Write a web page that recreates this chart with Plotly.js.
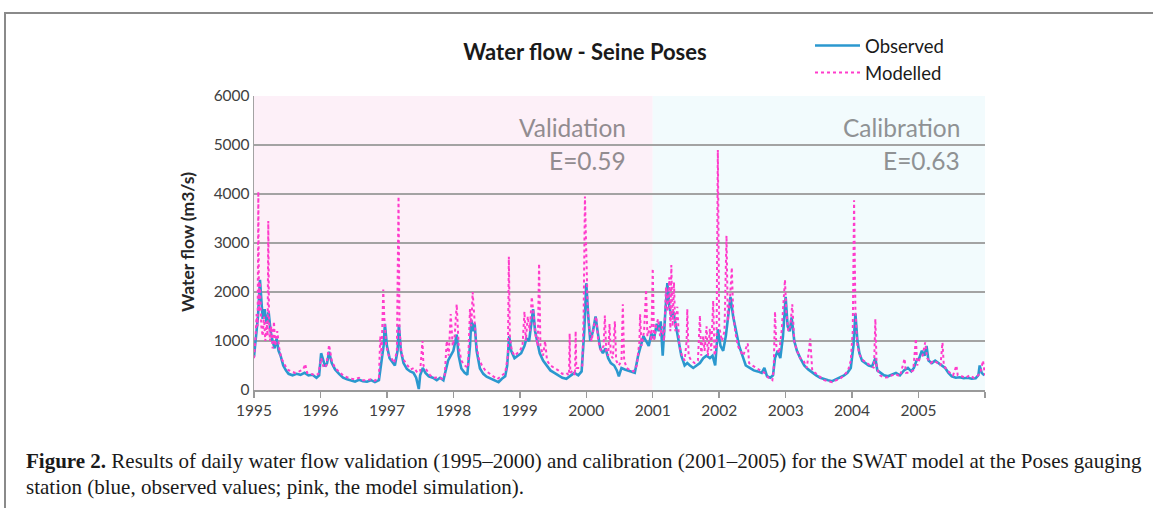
<!DOCTYPE html>
<html>
<head>
<meta charset="utf-8">
<script src="https://cdn.plot.ly/plotly-3.0.1.min.js"></script>
<style>
  html, body { margin: 0; padding: 0; background: #ffffff; }
  #wrap { position: relative; width: 1153px; height: 508px; overflow: hidden; }
  #chart { position: absolute; left: 0; top: 0; width: 1153px; height: 508px; }
  #frame { position: absolute; left: 4px; top: 12px; width: 1200px; height: 600px;
           border-top: 2px solid #8a8a8a; border-left: 2px solid #8a8a8a; pointer-events: none; }
</style>
</head>
<body>
<div id="wrap">
  <div id="chart"></div>
  <div id="frame"></div>
</div>
<script>
// ---------- data ----------
const yearTicks = [1995, 1996, 1997, 1998, 1999, 2000, 2001, 2002, 2003, 2004, 2005, 2006];
const yearTickLabels = ['1995','1996','1997','1998','1999','2000','2001','2002','2003','2004','2005',''];

const observedYear = [
 1995.00,1995.03,1995.06,1995.09,1995.11,1995.13,1995.16,1995.19,1995.22,1995.25,1995.28,1995.31,1995.34,1995.37,1995.40,1995.44,1995.48,1995.52,1995.58,1995.64,1995.70,1995.76,1995.82,1995.88,1995.94,1995.98,
 1996.01,1996.04,1996.07,1996.10,1996.13,1996.17,1996.22,1996.28,1996.34,1996.40,1996.46,1996.52,1996.58,1996.64,1996.70,1996.76,1996.82,1996.88,1996.92,1996.95,1996.97,
 1997.00,1997.04,1997.08,1997.12,1997.16,1997.18,1997.21,1997.25,1997.30,1997.35,1997.40,1997.44,1997.48,1997.50,1997.54,1997.58,1997.63,1997.69,1997.75,1997.80,1997.85,1997.88,1997.92,1997.96,
 1998.00,1998.05,1998.08,1998.12,1998.17,1998.21,1998.25,1998.27,1998.30,1998.32,1998.35,1998.40,1998.45,1998.50,1998.56,1998.62,1998.68,1998.73,1998.78,1998.81,1998.84,1998.87,1998.92,1998.97,
 1999.02,1999.07,1999.10,1999.14,1999.18,1999.20,1999.23,1999.26,1999.30,1999.35,1999.40,1999.46,1999.52,1999.58,1999.64,1999.70,1999.76,1999.82,1999.88,1999.93,1999.97,
 2000.00,2000.03,2000.06,2000.10,2000.14,2000.17,2000.21,2000.25,2000.29,2000.33,2000.37,2000.42,2000.46,2000.49,2000.53,2000.58,2000.63,2000.68,2000.73,2000.78,2000.82,2000.86,2000.90,2000.94,2000.98,
 2001.02,2001.06,2001.09,2001.12,2001.15,2001.19,2001.22,2001.25,2001.28,2001.31,2001.35,2001.39,2001.43,2001.48,2001.52,2001.56,2001.61,2001.66,2001.71,2001.76,2001.81,2001.86,2001.90,2001.94,2001.98,
 2002.02,2002.06,2002.10,2002.14,2002.17,2002.21,2002.25,2002.30,2002.35,2002.40,2002.46,2002.52,2002.58,2002.64,2002.68,2002.72,2002.77,2002.81,2002.84,2002.88,2002.92,2002.96,
 2003.00,2003.03,2003.06,2003.09,2003.13,2003.17,2003.22,2003.28,2003.34,2003.40,2003.46,2003.52,2003.58,2003.64,2003.70,2003.76,2003.82,2003.88,2003.93,2003.98,
 2004.02,2004.05,2004.08,2004.11,2004.15,2004.20,2004.25,2004.30,2004.35,2004.38,2004.43,2004.48,2004.54,2004.60,2004.66,2004.72,2004.78,2004.84,2004.89,2004.93,2004.97,
 2005.01,2005.05,2005.09,2005.12,2005.15,2005.20,2005.25,2005.30,2005.35,2005.40,2005.45,2005.50,2005.56,2005.62,2005.68,2005.74,2005.80,2005.86,2005.90,2005.92,2005.95,2005.99
];
const observedFlow = [
 680,1100,1500,2250,1800,1450,1650,1350,1600,1200,1000,850,1050,800,700,500,400,330,300,330,310,350,300,310,250,300,
 750,600,480,550,780,550,420,330,250,220,200,170,210,180,170,200,160,200,600,900,1350,
 900,650,570,500,800,1330,800,550,430,380,350,250,20,300,450,350,280,250,200,250,200,350,600,700,
 800,1130,700,440,350,310,900,1430,1200,1360,800,440,330,270,230,200,160,230,280,500,1100,800,650,700,
 750,900,1050,1000,1400,1650,1200,1000,750,600,500,400,350,300,250,230,300,350,300,380,1200,
 2180,1500,1000,1200,1500,1200,850,750,850,650,550,500,400,280,450,420,400,380,350,700,900,1100,1000,900,1150,
 1050,1350,1200,1400,700,1600,2180,1700,1500,1600,1300,1000,700,500,550,500,450,500,550,650,700,650,700,500,1240,
 900,800,1100,1500,1900,1500,1200,900,700,500,450,400,380,350,450,280,250,300,650,800,650,1100,
 1900,1300,1200,1480,1000,800,650,500,420,350,300,250,220,200,180,220,250,300,350,450,
 900,1560,1000,750,600,550,500,480,650,400,350,300,280,320,350,300,400,450,380,450,600,
 650,800,700,900,600,550,600,550,500,450,350,280,250,260,240,250,230,240,300,500,350,300
];

const modelledYear = [
 1995.00,1995.02,1995.04,1995.055,1995.065,1995.075,1995.09,1995.11,1995.13,1995.15,1995.17,1995.19,1995.205,1995.215,1995.225,1995.24,1995.26,1995.28,1995.30,1995.32,1995.35,1995.38,1995.41,1995.45,1995.50,1995.56,1995.62,1995.68,1995.74,1995.77,1995.80,1995.86,1995.92,1995.97,
 1996.01,1996.05,1996.09,1996.13,1996.17,1996.22,1996.28,1996.34,1996.40,1996.46,1996.52,1996.58,1996.64,1996.70,1996.76,1996.82,1996.88,1996.90,1996.92,1996.945,1996.96,1996.99,
 1997.03,1997.07,1997.11,1997.15,1997.175,1997.19,1997.22,1997.26,1997.31,1997.36,1997.41,1997.46,1997.50,1997.535,1997.55,1997.60,1997.65,1997.71,1997.77,1997.83,1997.87,1997.90,1997.93,1997.96,1997.99,
 1998.02,1998.05,1998.08,1998.12,1998.17,1998.22,1998.25,1998.27,1998.29,1998.31,1998.34,1998.38,1998.43,1998.48,1998.54,1998.60,1998.66,1998.72,1998.78,1998.82,1998.835,1998.85,1998.88,1998.92,1998.96,
 1999.00,1999.04,1999.07,1999.09,1999.12,1999.15,1999.18,1999.21,1999.24,1999.27,1999.29,1999.31,1999.35,1999.38,1999.41,1999.46,1999.52,1999.58,1999.64,1999.70,1999.74,1999.75,1999.76,1999.80,1999.83,1999.84,1999.85,1999.90,1999.94,1999.96,1999.98,
 2000.00,2000.02,2000.05,2000.08,2000.12,2000.15,2000.18,2000.22,2000.26,2000.28,2000.30,2000.33,2000.35,2000.37,2000.40,2000.43,2000.45,2000.49,2000.53,2000.55,2000.57,2000.61,2000.66,2000.71,2000.76,2000.80,2000.81,2000.83,2000.87,2000.90,2000.92,2000.96,2000.98,
 2001.00,2001.02,2001.05,2001.08,2001.11,2001.14,2001.17,2001.20,2001.22,2001.25,2001.265,2001.28,2001.30,2001.32,2001.34,2001.37,2001.40,2001.44,2001.48,2001.51,2001.52,2001.54,2001.58,2001.63,2001.68,2001.71,2001.73,2001.76,2001.78,2001.81,2001.83,2001.86,2001.88,2001.91,2001.93,2001.96,2001.98,
 2002.00,2002.04,2002.08,2002.11,2002.13,2002.16,2002.19,2002.21,2002.24,2002.28,2002.32,2002.36,2002.43,2002.45,2002.50,2002.56,2002.62,2002.68,2002.74,2002.80,2002.82,2002.84,2002.86,2002.90,2002.94,2002.97,2002.99,
 2003.01,2003.04,2003.07,2003.10,2003.13,2003.17,2003.22,2003.27,2003.32,2003.37,2003.40,2003.46,2003.52,2003.58,2003.64,2003.70,2003.76,2003.82,2003.88,2003.94,2003.98,
 2004.01,2004.03,2004.05,2004.08,2004.12,2004.17,2004.23,2004.29,2004.33,2004.35,2004.37,2004.42,2004.48,2004.54,2004.60,2004.66,2004.72,2004.79,2004.81,2004.86,2004.92,2004.96,2004.98,
 2005.02,2005.06,2005.10,2005.13,2005.18,2005.23,2005.29,2005.33,2005.36,2005.38,2005.43,2005.48,2005.52,2005.57,2005.59,2005.65,2005.71,2005.77,2005.83,2005.88,2005.93,2005.97,2006.00
];
const modelledFlow = [
 650,1000,1550,1300,4050,1600,2200,1300,1100,1500,1000,1400,1100,3450,1500,1000,1300,850,1400,900,1200,850,650,550,420,380,350,380,420,530,350,330,300,330,
 650,450,500,920,600,450,380,300,260,230,220,250,200,200,220,190,250,1100,700,2050,1500,900,
 700,650,550,800,3950,1200,750,600,500,420,450,350,380,1000,500,400,300,250,260,230,300,1000,700,1550,900,
 1100,1750,900,600,500,450,1650,1300,2000,1500,1000,650,500,400,330,280,220,280,350,700,2720,1100,800,700,750,
 800,900,1600,1000,1500,1200,1900,1500,1100,900,2580,900,700,1000,600,500,450,400,330,350,300,1150,350,400,300,1200,450,450,500,1500,3950,
 2900,1700,1200,1000,1350,1500,1000,800,900,1520,800,700,1350,700,650,1400,600,500,600,1750,600,450,400,380,500,1000,1550,900,1200,2050,1100,1300,1000,
 2480,1000,1300,1450,1100,1300,1000,2100,1600,2300,1200,2550,1300,2200,1200,1700,900,700,600,1000,1650,700,600,550,600,1520,700,1100,800,1300,700,1250,800,1820,700,900,4900,
 1300,1000,1200,3150,1400,1800,2500,1600,1200,900,800,700,950,550,500,450,400,350,250,200,400,1600,900,750,1200,2000,2250,
 1600,1200,1300,1750,1000,800,650,600,450,1050,400,330,250,200,180,160,200,230,300,400,600,
 1200,3870,1600,900,700,600,550,500,450,1450,450,300,250,260,300,320,280,640,350,350,400,1050,500,
 650,700,970,650,550,600,550,500,970,500,400,350,300,500,300,280,250,300,250,280,350,600,300
];

const validationStart = 1995, validationEnd = 2001, calibrationEnd = 2006;

// ---------- layout helpers (pixel -> paper) ----------
const W = 1153, H = 508;
const M = { l: 254, r: 168, t: 96, b: 118 };
const PW = W - M.l - M.r, PH = H - M.t - M.b;
const px = x => (x - M.l) / PW;
const py = y => (H - M.b - y) / PH;

const chartFont = 'Lato, "Open Sans", sans-serif';
const captionFont = '"Liberation Serif", "DejaVu Serif", serif';

const traces = [
  { x: observedYear, y: observedFlow, type: 'scatter', mode: 'lines', name: 'Observed',
    legendgroup: 'a', line: { color: '#2b98cf', width: 2.6 } },
  { x: modelledYear, y: modelledFlow, type: 'scatter', mode: 'lines', name: 'Modelled',
    legendgroup: 'b', line: { color: '#ff3ccb', width: 2, dash: 'dot' } }
];

const layout = {
  width: W, height: H,
  margin: M,
  paper_bgcolor: 'rgba(0,0,0,0)',
  plot_bgcolor: 'rgba(0,0,0,0)',
  font: { family: chartFont, color: '#404040', size: 15 },
  title: { text: '<b>Water flow - Seine Poses</b>', font: { family: chartFont, size: 22, color: '#1a1a1a' },
           xref: 'container', yref: 'container', x: 585 / W, y: 1 - 52 / H, xanchor: 'center', yanchor: 'middle' },
  showlegend: true,
  legend: { x: px(810), y: py(27), xanchor: 'left', yanchor: 'top', traceorder: 'grouped', tracegroupgap: 0,
            itemwidth: 45,
            font: { family: chartFont, size: 18.5, color: '#1a1a1a' }, bgcolor: 'rgba(0,0,0,0)' },
  xaxis: { range: [validationStart, calibrationEnd], tickvals: yearTicks, ticktext: yearTickLabels,
           ticks: 'outside', ticklen: 6, tickcolor: '#9a9a9a', tickwidth: 1.5,
           showline: true, linecolor: '#9a9a9a', linewidth: 1.5, showgrid: false, zeroline: false,
           tickfont: { size: 15.5, color: '#404040' } },
  yaxis: { range: [0, 6000], dtick: 1000, showgrid: true, gridcolor: '#a3a3a3', gridwidth: 1.3,
           showline: true, linecolor: '#a3a3a3', linewidth: 1.3, zeroline: false, ticks: '',
           tickfont: { size: 15.5, color: '#404040' } },
  shapes: [
    { type: 'rect', xref: 'x', yref: 'paper', x0: validationStart, x1: validationEnd, y0: 0, y1: 1,
      fillcolor: '#fdf0f8', line: { width: 0 }, layer: 'below' },
    { type: 'rect', xref: 'x', yref: 'paper', x0: validationEnd, x1: calibrationEnd, y0: 0, y1: 1,
      fillcolor: '#f2fbfd', line: { width: 0 }, layer: 'below' }
  ],
  annotations: [
    { text: '<b>Water flow (m3/s)</b>', xref: 'paper', yref: 'paper', x: px(187), y: py(242),
      textangle: -90, showarrow: false, xanchor: 'center', yanchor: 'middle',
      font: { family: chartFont, size: 17.5, color: '#262626' } },
    { text: 'Validation', xref: 'paper', yref: 'paper', x: px(628), y: py(127), xanchor: 'right', yanchor: 'middle',
      showarrow: false, font: { family: chartFont, size: 24.5, color: '#928c90' } },
    { text: 'E=0.59', xref: 'paper', yref: 'paper', x: px(628), y: py(160), xanchor: 'right', yanchor: 'middle',
      showarrow: false, font: { family: chartFont, size: 24.5, color: '#928c90' } },
    { text: 'Calibration', xref: 'paper', yref: 'paper', x: px(962), y: py(127), xanchor: 'right', yanchor: 'middle',
      showarrow: false, font: { family: chartFont, size: 24.5, color: '#8f9294' } },
    { text: 'E=0.63', xref: 'paper', yref: 'paper', x: px(962), y: py(160), xanchor: 'right', yanchor: 'middle',
      showarrow: false, font: { family: chartFont, size: 24.5, color: '#8f9294' } },
    { text: '<b>Figure 2.</b> Results of daily water flow validation (1995–2000) and calibration (2001–2005) for the SWAT model at the Poses gauging',
      xref: 'paper', yref: 'paper', x: px(24), y: py(461), xanchor: 'left', yanchor: 'middle',
      showarrow: false, font: { family: captionFont, size: 21, color: '#1a1a1a' } },
    { text: 'station (blue, observed values; pink, the model simulation).',
      xref: 'paper', yref: 'paper', x: px(24), y: py(487), xanchor: 'left', yanchor: 'middle',
      showarrow: false, font: { family: captionFont, size: 21, color: '#1a1a1a' } }
  ]
};

Plotly.newPlot('chart', traces, layout, { displayModeBar: false, staticPlot: true });
</script>
</body>
</html>
